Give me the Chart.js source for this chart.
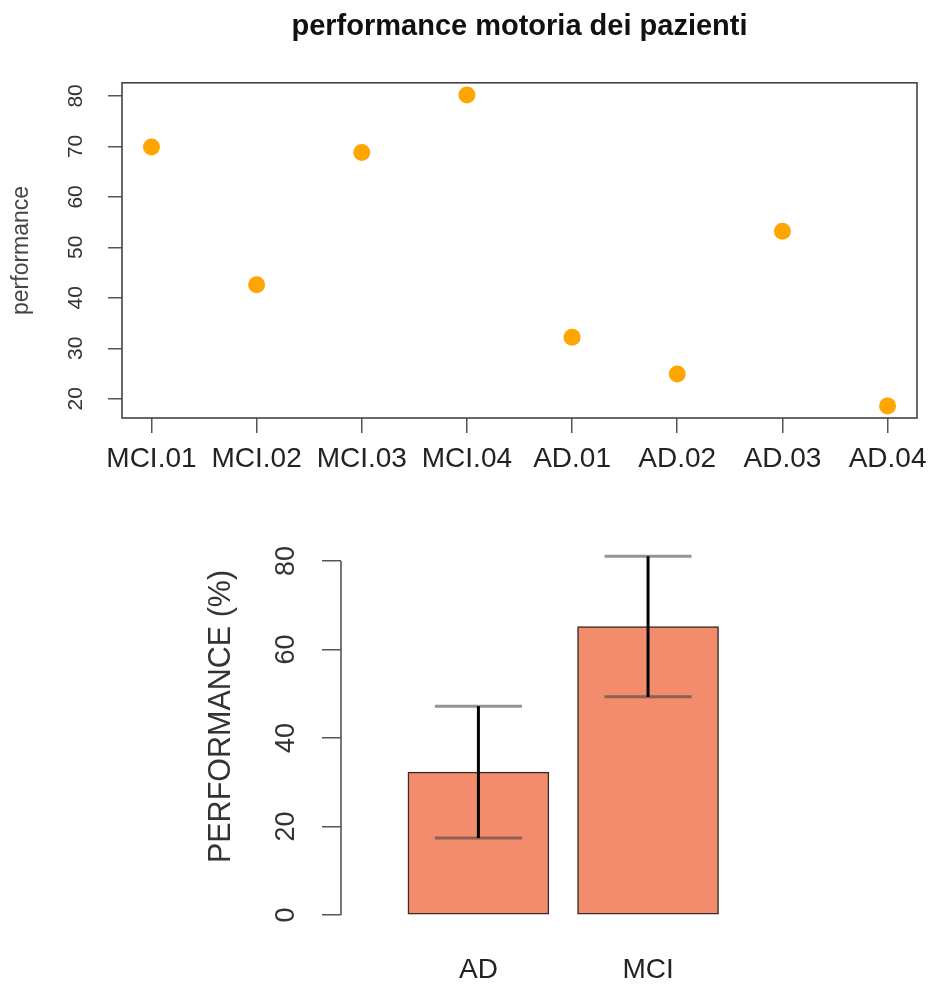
<!DOCTYPE html>
<html><head><meta charset="utf-8">
<script src="https://cdn.jsdelivr.net/npm/chart.js@4/dist/chart.umd.min.js"></script>
<style>
html,body{margin:0;padding:0;background:#fff;}
canvas{position:absolute;left:0;}
#top{top:0;width:929px;height:490px;}
#bot{top:490px;width:929px;height:495px;}
</style></head><body>
<canvas id="top" width="929" height="490"></canvas>
<canvas id="bot" width="929" height="495"></canvas>
<script>
// ---- data ----
const patients = ['MCI.01','MCI.02','MCI.03','MCI.04','AD.01','AD.02','AD.03','AD.04'];
const performance = [69.9, 42.6, 68.8, 80.2, 32.2, 24.9, 53.2, 18.6];
const perfTicks = [20, 30, 40, 50, 60, 70, 80];
const groups = ['AD', 'MCI'];
const groupMeans = [32.3, 65.2];
const groupSD = [14.9, 15.9];
const pctTicks = [0, 20, 40, 60, 80];

const FONT = "'Liberation Sans', Arial, Helvetica, sans-serif";
Chart.defaults.font.family = FONT;
Chart.defaults.color = '#222';

const rotatedY = {
  id: 'rotatedY',
  afterDraw(chart, args, o) {
    const ctx = chart.ctx, ys = chart.scales.y, ca = chart.chartArea;
    ctx.save();
    ctx.textAlign = 'center'; ctx.textBaseline = 'middle';
    ctx.fillStyle = o.tickColor; ctx.font = o.tickFont;
    ys.ticks.forEach(t => {
      const py = ys.getPixelForValue(t.value);
      ctx.save(); ctx.translate(o.tickX, py); ctx.rotate(-Math.PI / 2);
      ctx.fillText(String(t.value), 0, 0); ctx.restore();
    });
    ctx.fillStyle = o.titleColor; ctx.font = o.titleFont;
    ctx.translate(o.titleX, o.titleY != null ? o.titleY : (ca.top + ca.bottom) / 2);
    ctx.rotate(-Math.PI / 2);
    ctx.fillText(o.title, 0, 0);
    ctx.restore();
  }
};

const boxPlugin = {
  id: 'boxPlugin',
  afterDraw(chart) {
    const ctx = chart.ctx, ca = chart.chartArea;
    ctx.save(); ctx.strokeStyle = '#444'; ctx.lineWidth = 1.6;
    ctx.strokeRect(ca.left, ca.top, ca.right - ca.left, ca.bottom - ca.top);
    ctx.restore();
  }
};

const tickSet = arr => scale => { scale.ticks = arr.map(v => ({ value: v })); };

new Chart(document.getElementById('top'), {
  type: 'scatter',
  data: { datasets: [{
    data: performance.map((v, i) => ({ x: i + 1, y: v })),
    backgroundColor: '#FFA500', borderColor: '#FFA500', borderWidth: 0,
    pointRadius: 8.5, pointHoverRadius: 8.5
  }]},
  options: {
    responsive: false, animation: false, devicePixelRatio: 1,
    layout: { padding: { left: 122, right: 12, top: 0, bottom: 0 } },
    plugins: {
      legend: { display: false }, tooltip: { enabled: false },
      title: { display: true, text: 'performance motoria dei pazienti', color: '#111',
        font: { size: 29, weight: 'bold' }, padding: { top: 10, bottom: 38 } },
      rotatedY: { tickX: 76, tickFont: '21px ' + FONT, tickColor: '#333',
        titleX: 22, title: 'performance', titleFont: '23px ' + FONT, titleColor: '#444' }
    },
    scales: {
      x: { type: 'linear', min: 0.72, max: 8.28, offset: false,
        afterBuildTicks: tickSet(patients.map((p, i) => i + 1)),
        afterFit: s => { s.height = 72; s.paddingLeft = 0; s.paddingRight = 0; },
        ticks: { callback: (v, i) => patients[i], font: { size: 28 }, color: '#222', padding: 9,
          autoSkip: false, maxRotation: 0, minRotation: 0 },
        grid: { drawOnChartArea: false, drawTicks: true, tickLength: 15, color: '#555', lineWidth: 1.5 },
        border: { display: false }
      },
      y: { type: 'linear', min: 16.2, max: 82.6,
        afterBuildTicks: tickSet(perfTicks),
        afterFit: s => { s.width = 0; s.paddingTop = 0; s.paddingBottom = 0; },
        ticks: { display: false },
        grid: { drawOnChartArea: false, drawTicks: true, tickLength: 14, color: '#555', lineWidth: 1.5 },
        border: { display: false }
      }
    }
  },
  plugins: [rotatedY, boxPlugin]
});

const yAxisLine = {
  id: 'yAxisLine',
  afterDraw(chart) {
    const ctx = chart.ctx, ys = chart.scales.y, x = chart.chartArea.left;
    ctx.save(); ctx.strokeStyle = '#555'; ctx.lineWidth = 1.6;
    ctx.beginPath();
    ctx.moveTo(x, ys.getPixelForValue(pctTicks[0]));
    ctx.lineTo(x, ys.getPixelForValue(pctTicks[pctTicks.length - 1]));
    ctx.stroke(); ctx.restore();
  }
};

const errorBars = {
  id: 'errorBars',
  afterDatasetsDraw(chart) {
    const ctx = chart.ctx, xs = chart.scales.x, ys = chart.scales.y;
    ctx.save();
    groupMeans.forEach((m, i) => {
      const px = xs.getPixelForValue(i + 1);
      const hi = ys.getPixelForValue(m + groupSD[i]);
      const lo = ys.getPixelForValue(m - groupSD[i]);
      ctx.strokeStyle = 'rgba(60,60,60,0.55)'; ctx.lineWidth = 3;
      ctx.beginPath();
      ctx.moveTo(px - 43.5, hi); ctx.lineTo(px + 43.5, hi);
      ctx.moveTo(px - 43.5, lo); ctx.lineTo(px + 43.5, lo);
      ctx.stroke();
      ctx.strokeStyle = '#000'; ctx.lineWidth = 3;
      ctx.beginPath(); ctx.moveTo(px, hi); ctx.lineTo(px, lo); ctx.stroke();
    });
    ctx.restore();
  }
};

new Chart(document.getElementById('bot'), {
  type: 'bar',
  data: { datasets: [{
    data: groupMeans.map((m, i) => ({ x: i + 1, y: m })),
    backgroundColor: '#F28C6D', borderColor: '#3a2a25', borderWidth: 1.5,
    barThickness: 141, borderSkipped: false
  }]},
  options: {
    responsive: false, animation: false, devicePixelRatio: 1,
    layout: { padding: { left: 0, right: 169, top: 60, bottom: 0 } },
    plugins: {
      legend: { display: false }, tooltip: { enabled: false },
      rotatedY: { tickX: 287, tickFont: '27px ' + FONT, tickColor: '#333',
        titleX: 222, titleY: 226.5, title: 'PERFORMANCE (%)', titleFont: '30.5px ' + FONT, titleColor: '#333' }
    },
    scales: {
      x: { type: 'linear', min: 0.19, max: 2.66, offset: false,
        afterBuildTicks: tickSet(groups.map((g, i) => i + 1)),
        afterFit: s => { s.height = 59; s.paddingLeft = 0; s.paddingRight = 0; },
        ticks: { callback: (v, i) => groups[i], font: { size: 28 }, color: '#222', padding: 27,
          autoSkip: false, maxRotation: 0, minRotation: 0 },
        grid: { display: false, drawTicks: false, offset: false },
        border: { display: false }
      },
      y: { type: 'linear', min: -2.5, max: 82.5,
        afterBuildTicks: tickSet(pctTicks),
        afterFit: s => { s.width = 341; s.paddingTop = 0; s.paddingBottom = 0; },
        ticks: { display: false },
        grid: { drawOnChartArea: false, drawTicks: true, tickLength: 19, color: '#555', lineWidth: 1.5 },
        border: { display: false }
      }
    }
  },
  plugins: [rotatedY, yAxisLine, errorBars]
});
</script>
</body></html>
